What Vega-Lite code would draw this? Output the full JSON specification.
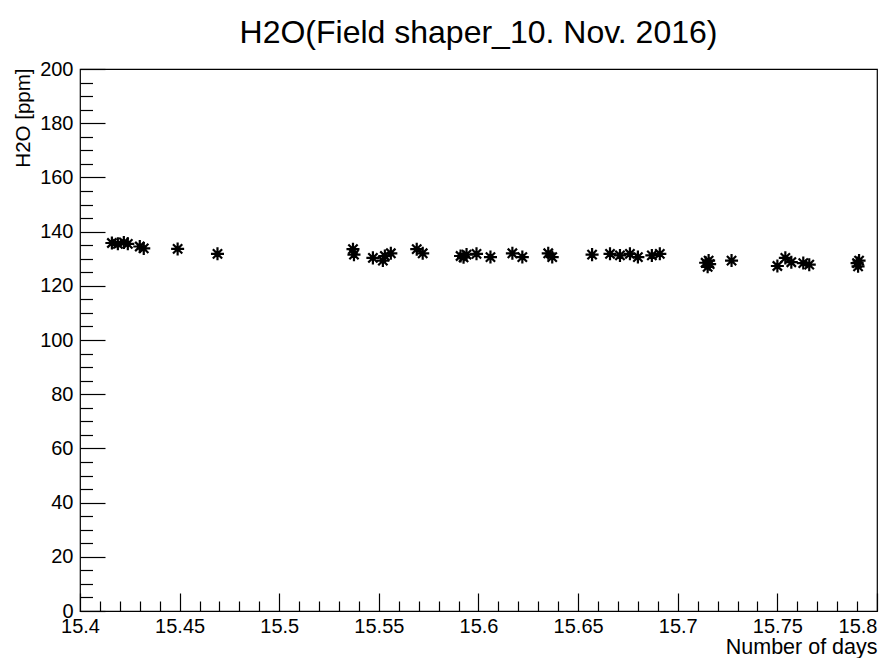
{
  "$schema": "https://vega.github.io/schema/vega-lite/v6.json",
  "width": 797,
  "height": 542,
  "autosize": "none",
  "padding": {"left": 80, "top": 69, "right": 18, "bottom": 47},
  "background": "white",
  "config": {
    "font": "Liberation Sans",
    "view": {"stroke": "black", "strokeWidth": 1.2},
    "axis": {"grid": false, "domain": false, "labelFont": "Liberation Sans", "titleFont": "Liberation Sans", "labelColor": "black", "titleColor": "black", "tickColor": "black", "tickWidth": 1.2}
  },
  "title": {"text": "H2O(Field shaper_10. Nov. 2016)", "fontSize": 32, "fontWeight": "normal", "font": "Liberation Sans", "anchor": "middle", "offset": 9, "color": "black"},
  "data": {"values": [
    {"day": 15.416, "h2o": 135.8},
    {"day": 15.419, "h2o": 135.5},
    {"day": 15.422, "h2o": 136.0},
    {"day": 15.424, "h2o": 135.5},
    {"day": 15.430, "h2o": 134.5},
    {"day": 15.432, "h2o": 133.8},
    {"day": 15.449, "h2o": 133.6},
    {"day": 15.469, "h2o": 131.8},
    {"day": 15.537, "h2o": 133.5},
    {"day": 15.5375, "h2o": 131.5},
    {"day": 15.547, "h2o": 130.3},
    {"day": 15.552, "h2o": 129.3},
    {"day": 15.553, "h2o": 131.0},
    {"day": 15.556, "h2o": 132.0},
    {"day": 15.569, "h2o": 133.5},
    {"day": 15.572, "h2o": 132.0},
    {"day": 15.591, "h2o": 131.0},
    {"day": 15.5925, "h2o": 130.5},
    {"day": 15.594, "h2o": 131.5},
    {"day": 15.599, "h2o": 131.8},
    {"day": 15.606, "h2o": 130.6},
    {"day": 15.617, "h2o": 132.0},
    {"day": 15.622, "h2o": 130.6},
    {"day": 15.635, "h2o": 132.0},
    {"day": 15.637, "h2o": 130.6},
    {"day": 15.657, "h2o": 131.5},
    {"day": 15.666, "h2o": 131.8},
    {"day": 15.671, "h2o": 131.2},
    {"day": 15.676, "h2o": 131.8},
    {"day": 15.680, "h2o": 130.6},
    {"day": 15.687, "h2o": 131.2},
    {"day": 15.691, "h2o": 131.8},
    {"day": 15.714, "h2o": 128.5},
    {"day": 15.715, "h2o": 127.0},
    {"day": 15.7155, "h2o": 129.3},
    {"day": 15.716, "h2o": 128.0},
    {"day": 15.727, "h2o": 129.3},
    {"day": 15.750, "h2o": 127.3},
    {"day": 15.754, "h2o": 130.3},
    {"day": 15.757, "h2o": 128.7},
    {"day": 15.763, "h2o": 128.4},
    {"day": 15.766, "h2o": 127.8},
    {"day": 15.790, "h2o": 128.4},
    {"day": 15.7905, "h2o": 127.2},
    {"day": 15.791, "h2o": 129.3}
  ]},
  "resolve": {"axis": {"x": "independent", "y": "independent"}},
  "layer": [
    {
      "mark": {"type": "point", "shape": "M-1,0L1,0M0,-1L0,1M-0.71,-0.71L0.71,0.71M-0.71,0.71L0.71,-0.71", "filled": false, "stroke": "black", "strokeWidth": 2.2, "size": 170, "opacity": 1},
      "encoding": {
        "x": {"field": "day", "type": "quantitative", "scale": {"domain": [15.4, 15.8], "nice": false, "zero": false},
          "axis": {"orient": "bottom", "values": [15.4, 15.45, 15.5, 15.55, 15.6, 15.65, 15.7, 15.75, 15.8], "format": "~g", "ticks": false, "labelPadding": 5, "labelFontSize": 20, "labelFlush": false, "labelAlign": {"expr": "datum.value >= 15.79 ? 'right' : 'center'"}, "title": "Number of days", "titleFontSize": 21.5, "titleFontWeight": "normal", "titleAlign": "right", "titleAnchor": null, "titleBaseline": "alphabetic", "titleX": 797, "titleY": 42}},
        "y": {"field": "h2o", "type": "quantitative", "scale": {"domain": [0, 200], "nice": false},
          "axis": {"orient": "left", "values": [0, 20, 40, 60, 80, 100, 120, 140, 160, 180, 200], "ticks": false, "labelPadding": 7, "labelFontSize": 20, "labelFlush": false, "title": "H2O [ppm]", "titleFontSize": 20.5, "titleFontWeight": "normal", "titleAngle": -90, "titleAlign": "right", "titleAnchor": null, "titleBaseline": "alphabetic", "titleX": -51, "titleY": -1}}
      }
    },
    {
      "mark": {"type": "point", "opacity": 0},
      "encoding": {
        "x": {"field": "day", "type": "quantitative", "scale": {"domain": [15.4, 15.8], "nice": false, "zero": false},
          "axis": {"orient": "bottom", "values": [15.4, 15.45, 15.5, 15.55, 15.6, 15.65, 15.7, 15.75, 15.8], "labels": false, "ticks": true, "tickSize": -18, "title": null}},
        "y": {"field": "h2o", "type": "quantitative", "scale": {"domain": [0, 200], "nice": false},
          "axis": {"orient": "left", "values": [0, 20, 40, 60, 80, 100, 120, 140, 160, 180, 200], "labels": false, "ticks": true, "tickSize": -25, "title": null}}
      }
    },
    {
      "mark": {"type": "point", "opacity": 0},
      "encoding": {
        "x": {"field": "day", "type": "quantitative", "scale": {"domain": [15.4, 15.8], "nice": false, "zero": false},
          "axis": {"orient": "bottom", "values": [15.41, 15.42, 15.43, 15.44, 15.46, 15.47, 15.48, 15.49, 15.51, 15.52, 15.53, 15.54, 15.56, 15.57, 15.58, 15.59, 15.61, 15.62, 15.63, 15.64, 15.66, 15.67, 15.68, 15.69, 15.71, 15.72, 15.73, 15.74, 15.76, 15.77, 15.78, 15.79], "labels": false, "ticks": true, "tickSize": -10, "title": null}},
        "y": {"field": "h2o", "type": "quantitative", "scale": {"domain": [0, 200], "nice": false},
          "axis": {"orient": "left", "values": [5, 10, 15, 25, 30, 35, 45, 50, 55, 65, 70, 75, 85, 90, 95, 105, 110, 115, 125, 130, 135, 145, 150, 155, 165, 170, 175, 185, 190, 195], "labels": false, "ticks": true, "tickSize": -12.5, "title": null}}
      }
    }
  ]
}
